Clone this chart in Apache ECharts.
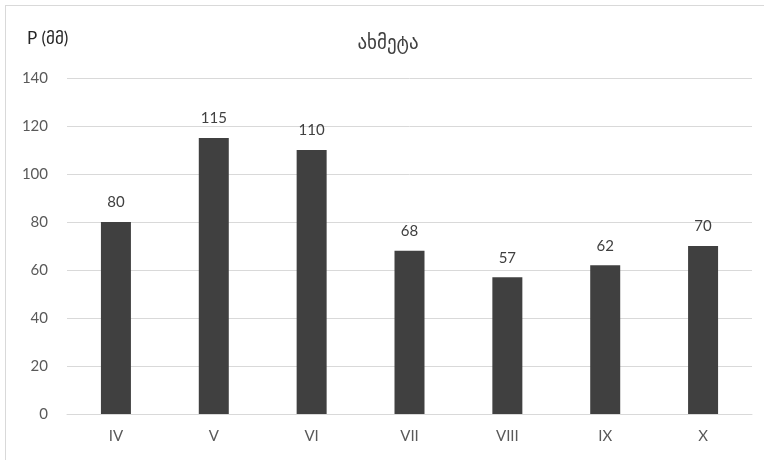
<!DOCTYPE html>
<html>
<head>
<meta charset="utf-8">
<script src="https://cdn.jsdelivr.net/npm/echarts@6/dist/echarts.min.js"></script>
<style>
  html, body { margin: 0; padding: 0; background: #fff; }
  #frame { position: absolute; left: 5px; top: 5px; width: 770px; height: 470px; border: 1px solid #d9d9d9; box-sizing: border-box; }
  #chart { width: 764px; height: 460px; position: absolute; left: 0; top: 0; }
</style>
</head>
<body>
<div id="frame"></div>
<div id="chart"></div>
<script>
// Monthly precipitation, Akhmeta
const months = ['IV', 'V', 'VI', 'VII', 'VIII', 'IX', 'X'];
const precipitation = [80, 115, 110, 68, 57, 62, 70];
const yTicks = { min: 0, max: 140, interval: 20 };

const FONT = 'Lato, "DejaVu Sans", sans-serif';
const chart = echarts.init(document.getElementById('chart'), null, { renderer: 'canvas' });
chart.setOption({
  animation: false,
  title: {
    text: 'ახმეტა',
    left: 383,
    top: 28,
    textAlign: 'center',
    textStyle: { fontFamily: FONT, fontSize: 19, fontWeight: 'normal', color: '#404040' }
  },
  graphic: [{
    type: 'text',
    left: 27,
    top: 30,
    style: { text: 'P (მმ)', font: '17px ' + FONT, fill: '#262626' }
  }],
  grid: { left: 67, right: 12, top: 78, bottom: 46 },
  xAxis: {
    type: 'category',
    data: months,
    axisLine: { show: true, lineStyle: { color: '#d9d9d9', width: 1 } },
    axisTick: { show: false },
    axisLabel: { color: '#595959', fontSize: 15, fontFamily: FONT, margin: 15 }
  },
  yAxis: {
    type: 'value',
    min: yTicks.min,
    max: yTicks.max,
    interval: yTicks.interval,
    axisLine: { show: false },
    axisTick: { show: false },
    splitLine: { lineStyle: { color: '#d9d9d9', width: 1 } },
    axisLabel: { color: '#595959', fontSize: 15, fontFamily: FONT, margin: 19 }
  },
  series: [{
    type: 'bar',
    data: precipitation,
    barWidth: 30,
    itemStyle: { color: '#404040' },
    label: {
      show: true,
      position: 'top',
      distance: 12,
      color: '#404040',
      fontSize: 15,
      fontFamily: FONT
    }
  }]
});
</script>
</body>
</html>
